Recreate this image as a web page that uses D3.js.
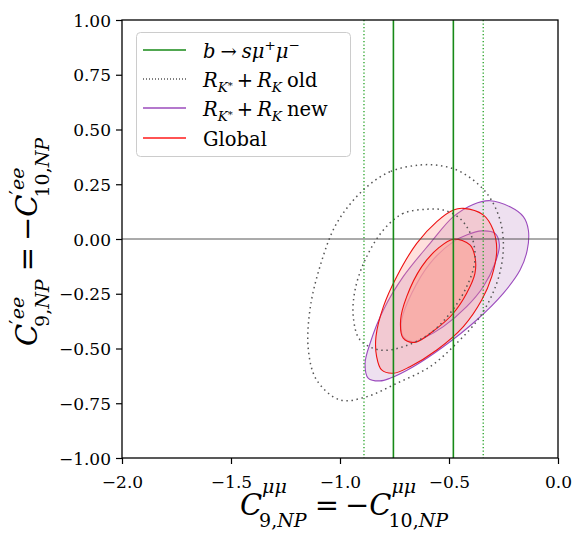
<!DOCTYPE html>
<html><head><meta charset="utf-8">
<script src="https://cdn.jsdelivr.net/npm/d3@7"></script>
<style>body{margin:0;background:#fff}svg{display:block}text{font-family:"DejaVu Serif",serif;fill:#000}</style>
</head><body><svg id="c" width="588" height="549"></svg>
<script>
const xTicks = [-2.0, -1.5, -1.0, -0.5, 0.0];
const yTicks = [-1.0, -0.75, -0.5, -0.25, 0.0, 0.25, 0.5, 0.75, 1.0];
const bsmmCentral = [-0.755, -0.48];
const bsmmOuter = [-0.89, -0.343];
const oldOuter = [[-0.633,0.338],[-0.771,0.307],[-0.893,0.224],[-1.015,0.072],[-1.092,-0.126],[-1.138,-0.324],[-1.145,-0.507],[-1.107,-0.644],[-1.0,-0.735],[-0.878,-0.72],[-0.74,-0.659],[-0.587,-0.583],[-0.465,-0.476],[-0.358,-0.355],[-0.281,-0.202],[-0.251,-0.05],[-0.266,0.087],[-0.327,0.209],[-0.434,0.3],[-0.526,0.333]];
const oldInner = [[-0.602,0.136],[-0.71,0.117],[-0.801,0.041],[-0.885,-0.096],[-0.931,-0.233],[-0.939,-0.355],[-0.908,-0.461],[-0.817,-0.507],[-0.71,-0.492],[-0.587,-0.431],[-0.495,-0.339],[-0.419,-0.218],[-0.381,-0.096],[-0.396,0.011],[-0.45,0.094],[-0.526,0.132]];
const newOuter = [[-0.312,0.175],[-0.22,0.147],[-0.159,0.102],[-0.136,0.041],[-0.141,-0.05],[-0.174,-0.142],[-0.251,-0.248],[-0.373,-0.37],[-0.526,-0.492],[-0.664,-0.583],[-0.771,-0.636],[-0.817,-0.648],[-0.87,-0.636],[-0.885,-0.568],[-0.862,-0.476],[-0.801,-0.324],[-0.71,-0.172],[-0.587,-0.02],[-0.48,0.102],[-0.389,0.158]];
const newInner = [[-0.35,0.037],[-0.289,0.026],[-0.269,-0.027],[-0.289,-0.111],[-0.343,-0.218],[-0.419,-0.309],[-0.526,-0.4],[-0.618,-0.453],[-0.664,-0.469],[-0.71,-0.446],[-0.717,-0.37],[-0.671,-0.248],[-0.587,-0.111],[-0.48,-0.012],[-0.419,0.018]];
const globalOuter = [[-0.434,0.14],[-0.343,0.11],[-0.297,0.041],[-0.281,-0.05],[-0.304,-0.172],[-0.35,-0.279],[-0.434,-0.4],[-0.556,-0.507],[-0.679,-0.583],[-0.755,-0.613],[-0.809,-0.598],[-0.832,-0.537],[-0.835,-0.446],[-0.801,-0.309],[-0.74,-0.172],[-0.648,-0.02],[-0.556,0.079],[-0.48,0.132]];
const globalInner = [[-0.48,-0.001],[-0.404,-0.027],[-0.381,-0.081],[-0.381,-0.157],[-0.419,-0.248],[-0.48,-0.339],[-0.556,-0.408],[-0.656,-0.472],[-0.71,-0.453],[-0.722,-0.37],[-0.694,-0.263],[-0.625,-0.126],[-0.549,-0.042]];

const svg = d3.select("#c");
const L=122,R=558,T=20,B=458;
const x = d3.scaleLinear().domain([-2,0]).range([L,R]);
const y = d3.scaleLinear().domain([-1,1]).range([B,T]);
const line = d3.line().x(d=>x(d[0])).y(d=>y(d[1])).curve(d3.curveCatmullRomClosed.alpha(0.5));

const g = svg.append("g");
g.append("path").attr("d",line(newOuter)).attr("fill","rgba(140,40,150,0.145)").attr("stroke","#9b4bbd").attr("stroke-width",1.1);
g.append("path").attr("d",line(newInner)).attr("fill","rgba(140,40,150,0.12)").attr("stroke","#9b4bbd").attr("stroke-width",1.1);
g.append("path").attr("d",line(globalOuter)).attr("fill","rgba(255,140,130,0.27)").attr("stroke","#ee1111").attr("stroke-width",1.1);
g.append("path").attr("d",line(globalInner)).attr("fill","rgba(255,170,155,0.66)").attr("stroke","#ee1111").attr("stroke-width",1.1);
[oldOuter, oldInner].forEach(c=>g.append("path").attr("d",line(c)).attr("fill","none").attr("stroke","#555").attr("stroke-width",1.5).attr("stroke-dasharray","1.5,3.6"));
g.append("line").attr("x1",L).attr("x2",R).attr("y1",y(0)).attr("y2",y(0)).attr("stroke","#444").attr("stroke-width",0.9);
bsmmCentral.forEach(v=>g.append("line").attr("x1",x(v)).attr("x2",x(v)).attr("y1",T).attr("y2",B).attr("stroke","#178a17").attr("stroke-width",1.6));
bsmmOuter.forEach(v=>g.append("line").attr("x1",x(v)).attr("x2",x(v)).attr("y1",T).attr("y2",B).attr("stroke","#22a022").attr("stroke-width",1.3).attr("stroke-dasharray","1.3,2.2"));

svg.append("rect").attr("x",L).attr("y",T).attr("width",R-L).attr("height",B-T).attr("fill","none").attr("stroke","#000").attr("stroke-width",1.3);
const xa = svg.append("g").attr("transform",`translate(0,${B})`).call(d3.axisBottom(x).tickValues(xTicks).tickSize(6).tickSizeOuter(0));
const ya = svg.append("g").attr("transform",`translate(${L},0)`).call(d3.axisLeft(y).tickValues(yTicks).tickSize(6).tickSizeOuter(0));
const fmt = (d,dec)=>(d<0?"\u2212":"")+Math.abs(d).toFixed(dec);
[xa,ya].forEach(a=>{a.attr("font-family",null).attr("font-size",null);a.select(".domain").remove();a.selectAll("line").attr("stroke","#000").attr("stroke-width",1.2);a.selectAll("text").attr("font-size",17).attr("fill","#000");});
xa.selectAll("text").attr("y",30).attr("dy",null).text(d=>fmt(d,1));
ya.selectAll("text").attr("x",-11).attr("dy","0.36em").text(d=>fmt(d,2));

// math layout helper: tokens are {b:[parts]} or {s:[parts], u:[parts]}
function mathLabel(parent, tokens, o){
  const grp = parent.append("g");
  let cx=0;
  const put=(p,xx,yy,size)=>{const el=grp.append("text").attr("x",xx).attr("y",yy).attr("font-size",p.size||size).text(p.t);
    if(p.it) el.attr("font-style","italic"); if(p.font) el.attr("font-family",p.font); return el.node().getComputedTextLength()+(p.sp||0);};
  tokens.forEach(tok=>{
    if(tok.b){ tok.b.forEach(p=>{cx+=(p.pre||0); cx+=put(p,cx,p.dy||0,o.size);}); }
    else { let sx=cx+(tok.sdx||0), ux=cx+(tok.udx||0);
      (tok.s||[]).forEach(p=>{sx+=put(p,sx,-o.sup+(p.dy||0),o.ssize);});
      (tok.u||[]).forEach(p=>{ux+=put(p,ux,o.sub+(p.dy||0),o.ssize);});
      cx=Math.max(sx,ux); }
  });
  if(o.anchor==="middle") grp.selectAll("text").attr("x",function(){return +d3.select(this).attr("x")-cx/2;});
  return grp;
}
const axo={size:29,ssize:19,sup:22,sub:12,anchor:"middle"};
const xlG = svg.append("g").attr("transform","translate(344,515)");
mathLabel(xlG,[{b:[{t:"C",it:1}]},{s:[{t:"μμ",it:1}],u:[{t:"9,"},{t:"NP",it:1}],sdx:0,udx:-3},
  {b:[{t:"=",pre:8,sp:6},{t:"\u2212"},{t:"C",it:1}]},{s:[{t:"μμ",it:1}],u:[{t:"10,"},{t:"NP",it:1}],sdx:0,udx:-3}],axo);
const ylG = svg.append("g").attr("transform","translate(37,242) rotate(-90)");
mathLabel(ylG,[{b:[{t:"C",it:1}]},{s:[{t:"\u2032",size:20},{t:"ee",it:1}],u:[{t:"9,"},{t:"NP",it:1}],sdx:0,udx:-3},
  {b:[{t:"=",pre:8,sp:6},{t:"\u2212"},{t:"C",it:1}]},{s:[{t:"\u2032",size:20},{t:"ee",it:1}],u:[{t:"10,"},{t:"NP",it:1}],sdx:0,udx:-3}],
  {size:29,ssize:19,sup:13,sub:12,anchor:"middle"});

// legend
const lg = svg.append("g");
lg.append("rect").attr("x",136.5).attr("y",32.5).attr("width",214).attr("height",124).attr("rx",4).attr("fill","rgba(255,255,255,0.85)").attr("stroke","#cccccc").attr("stroke-width",1);
const rows=[50,79,108,138];
const styles=[{c:"#178a17",d:null},{c:"#555555",d:"1,2"},{c:"#9b4bbd",d:null},{c:"#ff1a1a",d:null}];
rows.forEach((ry,i)=>{const ln=lg.append("line").attr("x1",143).attr("x2",186).attr("y1",ry).attr("y2",ry).attr("stroke",styles[i].c).attr("stroke-width",1.3); if(styles[i].d) ln.attr("stroke-dasharray",styles[i].d);});
const lo={size:19.5,ssize:13.5,sup:8,sub:5};
const at=i=>lg.append("g").attr("transform",`translate(203,${rows[i]+7.5})`);
mathLabel(at(0),[{b:[{t:"b",it:1,sp:5},{t:"→",sp:5},{t:"sμ",it:1}]},{s:[{t:"+"}]},{b:[{t:"μ",it:1}]},{s:[{t:"−"}]}],lo);
mathLabel(at(1),[{b:[{t:"R",it:1}]},{u:[{t:"K",it:1}]},{s:[{t:"*",size:10,dy:10}]},{b:[{t:"+",pre:4,sp:4},{t:"R",it:1}]},{u:[{t:"K",it:1}]},{b:[{t:"old",pre:5}]}],lo);
mathLabel(at(2),[{b:[{t:"R",it:1}]},{u:[{t:"K",it:1}]},{s:[{t:"*",size:10,dy:10}]},{b:[{t:"+",pre:4,sp:4},{t:"R",it:1}]},{u:[{t:"K",it:1}]},{b:[{t:"new",pre:5}]}],lo);
mathLabel(at(3),[{b:[{t:"Global"}]}],lo);
</script></body></html>
